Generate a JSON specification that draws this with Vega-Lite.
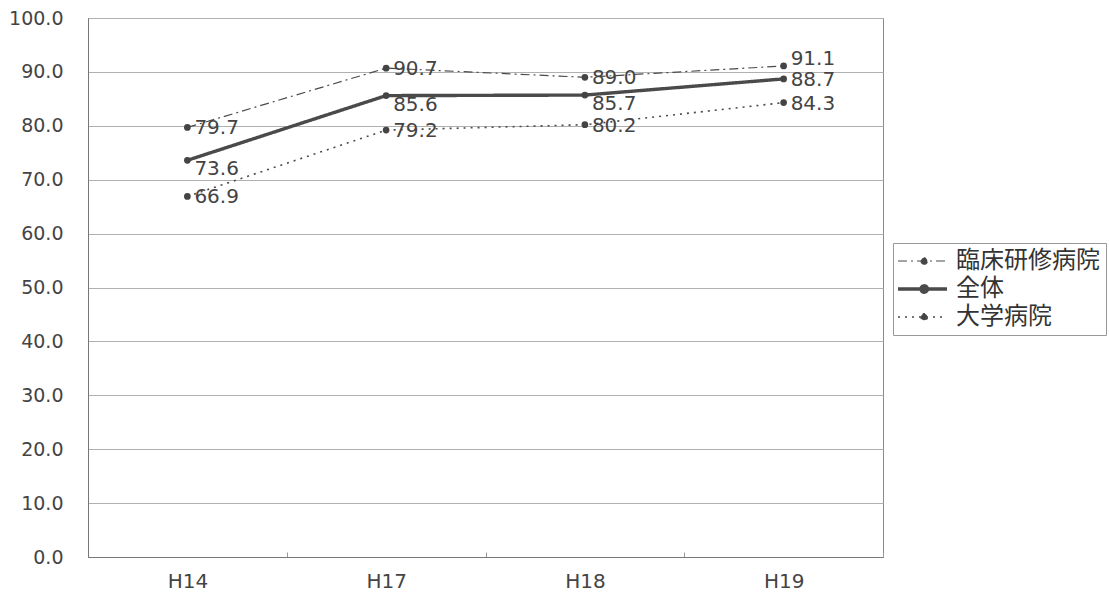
{
  "$schema": "https://vega.github.io/schema/vega-lite/v6.json",
  "width": 795,
  "height": 539,
  "autosize": "none",
  "padding": {"left": 88, "top": 18, "right": 226, "bottom": 50},
  "background": "white",
  "config": {
    "font": "DejaVu Sans",
    "view": {"stroke": "#8a8a8a", "strokeWidth": 1}
  },
  "data": {
    "values": [
      {"x": "H14", "s": "臨床研修病院", "v": 79.7},
      {"x": "H17", "s": "臨床研修病院", "v": 90.7},
      {"x": "H18", "s": "臨床研修病院", "v": 89.0},
      {"x": "H19", "s": "臨床研修病院", "v": 91.1},
      {"x": "H14", "s": "全体", "v": 73.6},
      {"x": "H17", "s": "全体", "v": 85.6},
      {"x": "H18", "s": "全体", "v": 85.7},
      {"x": "H19", "s": "全体", "v": 88.7},
      {"x": "H14", "s": "大学病院", "v": 66.9},
      {"x": "H17", "s": "大学病院", "v": 79.2},
      {"x": "H18", "s": "大学病院", "v": 80.2},
      {"x": "H19", "s": "大学病院", "v": 84.3}
    ]
  },
  "encoding": {
    "x": {
      "field": "x", "type": "nominal", "title": null,
      "scale": {"paddingInner": 0, "paddingOuter": 0},
      "axis": {"labelAngle": 0, "labelFontSize": 20, "labelColor": "#444", "labelPadding": 19,
               "tickBand": "extent", "tickSize": -5, "tickColor": "#999", "domainColor": "#777", "grid": false}
    },
    "y": {
      "field": "v", "type": "quantitative", "title": null,
      "scale": {"domain": [0, 100]},
      "axis": {"values": [0,10,20,30,40,50,60,70,80,90,100], "format": ".1f", "labelFontSize": 19, "labelColor": "#444",
               "ticks": false, "labelPadding": 25, "domainColor": "#777", "gridColor": "#b0b0b0", "gridWidth": 1}
    }
  },
  "layer": [
    {
      "mark": {"type": "line", "color": "#4a4a4a"},
      "encoding": {
        "strokeDash": {
          "field": "s", "type": "nominal",
          "scale": {"domain": ["臨床研修病院", "全体", "大学病院"], "range": [[9, 4, 2, 4], [1, 0], [2, 5]]},
          "legend": {"title": null, "orient": "none", "legendX": 805, "legendY": 225,
                     "symbolType": "M-1.3,0H3.6M1.0,0a0.32,0.32 0 1,0 0.64,0a0.32,0.32 0 1,0 -0.64,0Z", "symbolSize": 400,
                     "symbolStrokeColor": "#4a4a4a", "symbolFillColor": "#444",
                     "labelFont": "Noto Sans CJK JP", "labelFontSize": 24, "labelColor": "#333", "rowPadding": 4,
                     "strokeColor": "#999", "padding": 6, "labelOffset": 33}
        },
        "strokeWidth": {
          "field": "s", "type": "nominal",
          "scale": {"type": "ordinal", "domain": ["臨床研修病院", "全体", "大学病院"], "range": [1.2, 3.4, 1.6]},
          "legend": {"title": null, "orient": "none", "legendX": 805, "legendY": 225,
                     "symbolType": "M-1.3,0H3.6M1.0,0a0.32,0.32 0 1,0 0.64,0a0.32,0.32 0 1,0 -0.64,0Z", "symbolSize": 400,
                     "symbolStrokeColor": "#4a4a4a", "symbolFillColor": "#444",
                     "labelFont": "Noto Sans CJK JP", "labelFontSize": 24, "labelColor": "#333", "rowPadding": 4,
                     "strokeColor": "#999", "padding": 6, "labelOffset": 33}
        }
      }
    },
    {
      "mark": {"type": "point", "filled": true, "color": "#444", "size": 45, "opacity": 1}
    },
    {
      "transform": [{"filter": "datum.s == '大学病院' || (datum.s == '臨床研修病院' && datum.x != 'H19') || (datum.s == '全体' && datum.x == 'H19')"}],
      "mark": {"type": "text", "align": "left", "baseline": "middle", "dx": 7, "dy": 1, "fontSize": 20, "color": "#444"},
      "encoding": {"text": {"field": "v", "type": "quantitative", "format": ".1f"}}
    },
    {
      "transform": [{"filter": "datum.s == '全体' && datum.x != 'H19'"}],
      "mark": {"type": "text", "align": "left", "baseline": "middle", "dx": 7, "dy": 9, "fontSize": 20, "color": "#444"},
      "encoding": {"text": {"field": "v", "type": "quantitative", "format": ".1f"}}
    },
    {
      "transform": [{"filter": "datum.s == '臨床研修病院' && datum.x == 'H19'"}],
      "mark": {"type": "text", "align": "left", "baseline": "middle", "dx": 7, "dy": -7, "fontSize": 20, "color": "#444"},
      "encoding": {"text": {"field": "v", "type": "quantitative", "format": ".1f"}}
    }
  ]
}
